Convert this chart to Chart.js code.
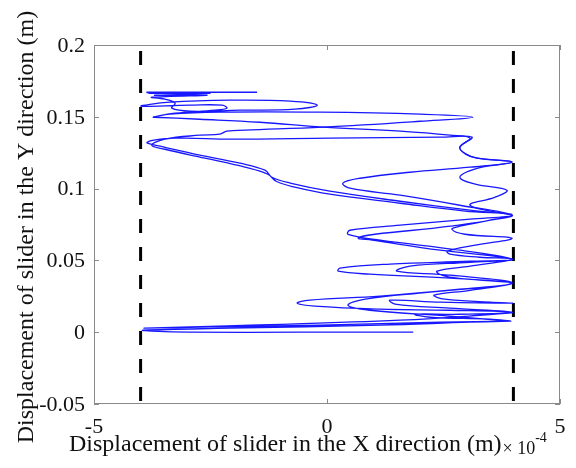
<!DOCTYPE html>
<html>
<head>
<meta charset="utf-8">
<script src="https://cdn.jsdelivr.net/npm/chart.js@4.4.1/dist/chart.umd.min.js"></script>
<style>
  html, body { margin: 0; padding: 0; background: #fff; }
</style>
</head>
<body>
<canvas id="grafico-slider" width="576" height="468"></canvas>
<script>
// limites dos eixos (x em unidades de 1e-4 m)
const xLimits = [-5, 5];
const yLimits = [-0.05, 0.2];
const xTicks = [-5, 0, 5];
const yTicks = [-0.05, 0, 0.05, 0.1, 0.15, 0.2];
const barrierX = [-4, 4];

const xTitle = "Displacement of slider in the X direction (m)";
const yTitle = "Displacement of slider in the Y direction (m)";

// trajetória: [x (1e-4 m), y (m)]
const bottomRuns = [
  [1.85, 0.0], [-0.58, 0.0], [-2.94, 0.0], [-3.76, 0.0007], [-3.95, 0.0014],
  [-2.08, 0.0028], [1.14, 0.0049], [3.07, 0.007], [3.93, 0.0077],
  [2.43, 0.007], [-0.15, 0.0049], [-2.73, 0.0035], [-3.91, 0.0028],
  [-1.65, 0.0049], [1.57, 0.0084], [3.28, 0.0118], [3.97, 0.0139],
];
const wideLoops = [
  [2.64, 0.0153], [1.14, 0.016], [-0.26, 0.0181], [-0.64, 0.0202], [-0.37, 0.0223], [1.14, 0.0251], [2.85, 0.0299], [3.97, 0.0341],
  [2.64, 0.0376], [0.92, 0.0404], [0.24, 0.0425], [0.28, 0.0446], [1.35, 0.0474], [3.07, 0.0494], [3.97, 0.0508],
  [2.85, 0.0571], [1.14, 0.0641], [0.45, 0.0682], [0.49, 0.071], [1.57, 0.0745], [3.07, 0.0787], [3.97, 0.0815],
];
const firstClimb = [
  [3.07, 0.085], [1.57, 0.0912], [0.06, 0.0982], [-0.79, 0.1038], [-1.18, 0.1079], [-1.33, 0.1128],
  [-1.87, 0.1177], [-2.73, 0.1233], [-3.58, 0.1295], [-3.86, 0.1323],
  [-3.26, 0.1351], [-2.08, 0.1344], [0.06, 0.1351], [2.43, 0.1358], [3.11, 0.1358],
  [2.85, 0.1288], [2.98, 0.124], [3.22, 0.1212], [3.97, 0.1184],
];
const bigLoop = [
  [3.07, 0.1149], [1.78, 0.1114], [0.71, 0.1072], [0.34, 0.1038], [0.49, 0.1003], [1.57, 0.0954], [2.85, 0.0884], [3.97, 0.0815],
];
const narrowDown = [
  [3.5, 0.078], [2.85, 0.0738], [2.68, 0.0717], [2.96, 0.0682], [3.97, 0.0655],
  [3.18, 0.0606], [2.58, 0.0564], [2.64, 0.0543], [3.28, 0.0522], [3.97, 0.0508],
  [3.07, 0.046], [2.36, 0.0425], [2.53, 0.039], [3.28, 0.0362], [3.97, 0.0341],
  [3.07, 0.0292], [2.3, 0.0258], [2.53, 0.023], [3.5, 0.0209], [3.97, 0.0202],
  [2.43, 0.0209], [1.35, 0.0223], [1.46, 0.0195], [2.64, 0.0167], [3.97, 0.0139],
  [2.85, 0.0125], [1.89, 0.0125], [2.21, 0.0104], [3.5, 0.0091], [3.93, 0.0077],
];
const narrowUp = [
  [2.64, 0.0111], [0.92, 0.0153], [0.45, 0.0188], [0.82, 0.023], [2.21, 0.0279], [3.97, 0.0341],
  [2.64, 0.0397], [1.5, 0.0425], [1.78, 0.046], [3.07, 0.0487], [3.97, 0.0508],
  [2.43, 0.0571], [0.97, 0.0641], [0.67, 0.0655], [1.03, 0.0682], [2.64, 0.0738], [3.97, 0.0815],
];
const secondClimb = [
  [2.96, 0.0843], [1.57, 0.0898], [0.06, 0.0961], [-0.69, 0.101], [-1.09, 0.1051], [-1.27, 0.11],
  [-1.76, 0.1149], [-2.62, 0.1212], [-3.48, 0.1274], [-3.76, 0.1302],
  [-3.48, 0.1344], [-2.73, 0.1372], [-2.3, 0.1379], [-2.15, 0.14], [-1.76, 0.1407], [-0.09, 0.1428], [2.0, 0.1469], [3.13, 0.1497],
  [2.0, 0.1518], [-0.15, 0.1532], [-2.3, 0.1532], [-3.37, 0.1518], [-3.73, 0.1497],
];
const topTangle = [
  [-3.26, 0.1525], [-2.4, 0.1546], [-2.15, 0.156], [-2.25, 0.1581], [-2.94, 0.1581], [-3.99, 0.1574],
  [-3.37, 0.1602], [-2.08, 0.1616], [-0.79, 0.1609], [-0.21, 0.1581], [-0.69, 0.1553], [-1.87, 0.1546], [-2.94, 0.1539],
  [-3.33, 0.156], [-3.26, 0.1595], [-3.48, 0.1623], [-3.76, 0.1636], [-2.58, 0.165], [-3.26, 0.165], [-3.69, 0.165],
  [-2.51, 0.1664], [-3.8, 0.1664], [-3.86, 0.1671], [-2.73, 0.1671], [-1.5, 0.1671],
];
// trecho que cruza o X no alto e desce pela direita
const crossingRun = [
  [-3.73, 0.1497], [-2.73, 0.1483], [-1.44, 0.1462], [-0.09, 0.1428], [1.57, 0.14], [2.64, 0.1372], [3.07, 0.1351],
  [2.85, 0.1288], [2.98, 0.124], [3.22, 0.1212], [3.97, 0.1184],
  [3.24, 0.1142], [2.85, 0.1079], [3.18, 0.1031], [3.86, 0.0989], [3.61, 0.094], [3.07, 0.0884], [3.97, 0.0815],
];

const toPoints = (arr) => arr.map(([x, y]) => ({ x, y }));
const mainPath = [
  ...bottomRuns, ...wideLoops, ...firstClimb, ...bigLoop,
  ...narrowDown, ...narrowUp, ...secondClimb, ...topTangle,
];

const AZUL = "rgb(24,24,255)";
const FONTE = '"Liberation Serif", "DejaVu Serif", serif';

const formatarY = (v) => String(Number(v.toFixed(2)));

// moldura, ticks para dentro, rótulos e títulos
const molduraPlugin = {
  id: "moldura",
  afterDraw(chart) {
    const {
      ctx,
      chartArea: { left, right, top, bottom },
      scales: { x, y },
    } = chart;
    ctx.save();
    ctx.strokeStyle = "#8a8a8a";
    ctx.lineWidth = 1;
    ctx.strokeRect(left + 0.5, top + 0.5, right - left - 1, bottom - top - 1);
    ctx.beginPath();
    xTicks.forEach((v) => {
      const px = Math.round(x.getPixelForValue(v)) + 0.5;
      ctx.moveTo(px, bottom);
      ctx.lineTo(px, bottom - 5);
      ctx.moveTo(px, top);
      ctx.lineTo(px, top + 5);
    });
    yTicks.forEach((v) => {
      const py = Math.round(y.getPixelForValue(v)) + 0.5;
      ctx.moveTo(left, py);
      ctx.lineTo(left + 5, py);
      ctx.moveTo(right, py);
      ctx.lineTo(right - 5, py);
    });
    ctx.stroke();

    // rótulos dos ticks
    ctx.fillStyle = "#111";
    ctx.font = "22px " + FONTE;
    ctx.textAlign = "center";
    ctx.textBaseline = "alphabetic";
    xTicks.forEach((v) => {
      ctx.fillText(String(v), x.getPixelForValue(v), bottom + 29);
    });
    ctx.textAlign = "right";
    ctx.textBaseline = "middle";
    yTicks.forEach((v) => {
      ctx.fillText(formatarY(v), left - 9, y.getPixelForValue(v) + 1);
    });

    // título do eixo x + fator de escala
    ctx.font = "24px " + FONTE;
    ctx.textAlign = "left";
    ctx.textBaseline = "alphabetic";
    ctx.fillText(xTitle, 69, 451);
    const w = ctx.measureText(xTitle).width;
    ctx.font = "18px " + FONTE;
    ctx.fillText("\u00d7 10", 69 + w + 1, 454);
    const w2 = ctx.measureText("\u00d7 10").width;
    ctx.font = "14px " + FONTE;
    ctx.fillText("-4", 69 + w + 1 + w2, 442);

    // título do eixo y
    ctx.translate(27, 227);
    ctx.rotate(-Math.PI / 2);
    ctx.font = "24px " + FONTE;
    ctx.textAlign = "center";
    ctx.textBaseline = "middle";
    ctx.fillText(yTitle, 0, 0);
    ctx.restore();
  },
};

const barreiras = barrierX.map((bx) => ({
  data: [{ x: bx, y: yLimits[1] }, { x: bx, y: yLimits[0] }],
  showLine: true,
  borderColor: "#000",
  borderWidth: 3,
  borderDash: [14, 14],
  borderDashOffset: 22,
  pointRadius: 0,
}));

new Chart(document.getElementById("grafico-slider").getContext("2d"), {
  type: "scatter",
  plugins: [molduraPlugin],
  data: {
    datasets: [
      {
        data: toPoints(mainPath),
        showLine: true,
        borderColor: AZUL,
        borderWidth: 1.3,
        tension: 0.4,
        pointRadius: 0,
      },
      {
        data: toPoints(crossingRun),
        showLine: true,
        borderColor: AZUL,
        borderWidth: 1.3,
        tension: 0.4,
        pointRadius: 0,
      },
      ...barreiras,
    ],
  },
  options: {
    responsive: false,
    animation: false,
    devicePixelRatio: 1,
    layout: { padding: { top: 45, right: 16, left: 0, bottom: 0 } },
    plugins: { legend: { display: false }, tooltip: { enabled: false } },
    scales: {
      x: {
        type: "linear",
        min: xLimits[0],
        max: xLimits[1],
        afterBuildTicks: (s) => { s.ticks = xTicks.map((v) => ({ value: v })); },
        afterFit: (s) => { s.height = 64; },
        grid: { display: false, drawTicks: false },
        border: { display: false },
        ticks: { display: false },
      },
      y: {
        type: "linear",
        min: yLimits[0],
        max: yLimits[1],
        afterBuildTicks: (s) => { s.ticks = yTicks.map((v) => ({ value: v })); },
        afterFit: (s) => { s.width = 94; },
        grid: { display: false, drawTicks: false },
        border: { display: false },
        ticks: { display: false },
      },
    },
  },
});
</script>
</body>
</html>
